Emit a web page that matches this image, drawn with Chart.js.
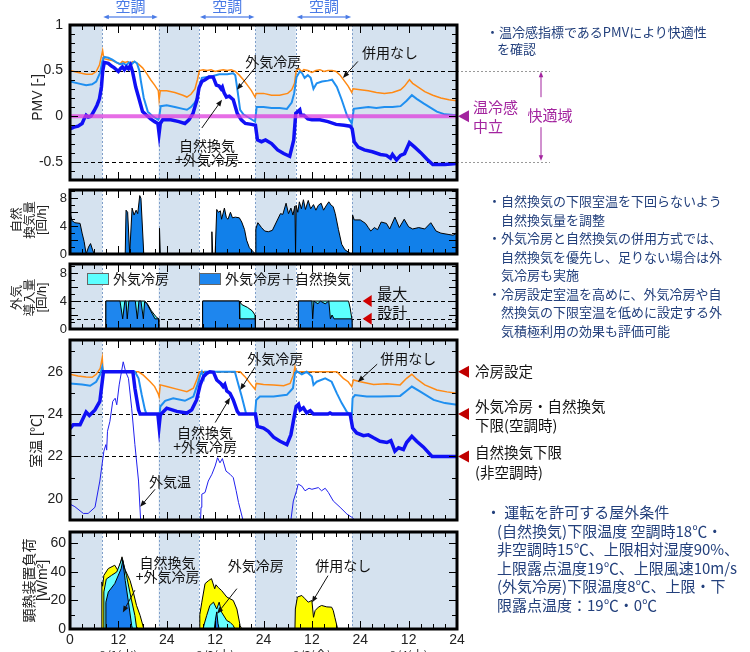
<!DOCTYPE html>
<html lang="ja">
<head>
<meta charset="utf-8">
<title>PMV・換気量・室温・顕熱負荷</title>
<script src="https://cdn.jsdelivr.net/npm/chart.js@4.4.0/dist/chart.umd.min.js"></script>
<style>
    html, body { margin: 0; padding: 0; background: #fff; }
    body { position: relative; width: 750px; height: 652px; overflow: hidden; font-family: 'Noto Sans CJK JP', sans-serif; }
    canvas { position: absolute; left: 0; }
    .note { position: absolute; white-space: nowrap; color: #23407c; }
</style>
</head>
<body>
<canvas id="pmvChart" width="750" height="185" style="top:0"></canvas>
<canvas id="ventChart" width="750" height="75" style="top:185px"></canvas>
<canvas id="oaChart" width="750" height="75" style="top:260px"></canvas>
<canvas id="tempChart" width="750" height="190" style="top:335px"></canvas>
<canvas id="loadChart" width="750" height="127" style="top:525px"></canvas>

<div class="note" style="left:486px;top:23px;font-size:13px;line-height:17px">
    <div>・温冷感指標であるPMVにより快適性</div>
    <div style="padding-left:11px">を確認</div>
</div>
<div class="note" style="left:488px;top:192px;font-size:13px;line-height:18.5px">
    <div>・自然換気の下限室温を下回らないよう</div>
    <div style="padding-left:13px">自然換気量を調整</div>
    <div>・外気冷房と自然換気の併用方式では、</div>
    <div style="padding-left:13px">自然換気を優先し、足りない場合は外</div>
    <div style="padding-left:13px">気冷房も実施</div>
    <div>・冷房設定室温を高めに、外気冷房や自</div>
    <div style="padding-left:13px">然換気の下限室温を低めに設定する外</div>
    <div style="padding-left:13px">気積極利用の効果も評価可能</div>
</div>
<div class="note" style="left:486px;top:503px;font-size:15px;line-height:18.5px">
    <div>・ 運転を許可する屋外条件</div>
    <div style="padding-left:11px">(自然換気)下限温度 空調時18℃・</div>
    <div style="padding-left:11px">非空調時15℃、上限相対湿度90%、</div>
    <div style="padding-left:11px">上限露点温度19℃、上限風速10m/s</div>
    <div style="padding-left:11px">(外気冷房)下限温度8℃、上限・下</div>
    <div style="padding-left:11px">限露点温度：19℃・0℃</div>
</div>

<script>
// time axis: 4 days, hours 0..96
const hourMax = 96;
const acOn = [8, 32, 56];
const acOff = [22, 46, 70];
const hourTicks = [0, 12, 24, 36, 48, 60, 72, 84, 96];
const dayLabels = ['8/1(水)', '8/2(木)', '8/3(金)', '8/4(土)'];

const pmvTicks = [-0.5, 0, 0.5, 1];
const ventTicks = [0, 2, 4, 6, 8];
const tempTicks = [20, 22, 24, 26];
const loadTicks = [0, 20, 40, 60];

const pmvComfort = [0.5, -0.5];
const pmvNeutral = 0;
const oaLevels = [4, 1.45];
const tempLevels = [26, 24, 22];

// PMV [-]
const pmvNone = [[0,0.50],[2,0.48],[4,0.46],[5.5,0.46],[6.5,0.49],[7.3,0.56],[7.9,0.68],[8.1,0.72],[8.4,0.63],[9.5,0.62],[10.5,0.61],[11.5,0.59],[12.3,0.57],[13,0.60],[13.7,0.59],[14.3,0.60],[15,0.58],[15.6,0.60],[16.3,0.59],[17,0.57],[18,0.53],[19,0.47],[20,0.40],[21,0.34],[21.9,0.28],[22.1,0.18],[22.4,0.28],[24,0.28],[26,0.26],[28,0.23],[29,0.21],[30,0.24],[31,0.30],[31.6,0.40],[32.1,0.50],[33,0.51],[34,0.50],[35,0.51],[36,0.49],[37,0.50],[38,0.51],[39,0.50],[40,0.51],[41,0.49],[42,0.45],[43,0.40],[44,0.34],[45,0.28],[45.9,0.21],[46.2,0.25],[48,0.25],[50,0.23],[52,0.23],[54,0.25],[55,0.29],[55.7,0.36],[56.1,0.50],[56.8,0.52],[57.5,0.49],[58,0.51],[59,0.50],[60,0.48],[61,0.50],[62,0.51],[63,0.49],[64,0.50],[65,0.50],[66,0.49],[67,0.45],[68,0.39],[69,0.33],[69.9,0.26],[70.2,0.30],[72,0.29],[74,0.28],[76,0.26],[78,0.25],[80,0.26],[82,0.29],[83,0.33],[84.2,0.40],[85,0.36],[86,0.33],[88,0.27],[90,0.23],[92,0.20],[94,0.18],[96,0.17]];
const pmvCool = [[0,0.38],[2,0.36],[4,0.34],[5.5,0.35],[6.5,0.38],[7.5,0.48],[8,0.60],[8.5,0.65],[9.5,0.64],[10.5,0.62],[11.5,0.59],[12.5,0.57],[13.2,0.58],[14,0.56],[14.6,0.59],[15.3,0.57],[16,0.60],[16.6,0.58],[17.2,0.50],[17.6,0.38],[18.3,0.20],[19.3,0.05],[20.5,0.00],[21.9,-0.04],[22.1,-0.02],[22.5,0.11],[24,0.12],[26,0.10],[28,0.08],[29,0.07],[30,0.10],[31,0.15],[31.5,0.20],[32.1,0.32],[32.7,0.42],[34,0.43],[35.5,0.44],[37,0.46],[39,0.46],[40.5,0.47],[41,0.45],[41.5,0.30],[42.2,0.07],[43,0.02],[44.5,-0.02],[45.9,-0.06],[46.3,0.10],[48,0.10],[50,0.09],[52,0.09],[53.8,0.08],[55,0.15],[55.6,0.25],[56.2,0.43],[57,0.49],[57.6,0.47],[58.2,0.42],[59,0.45],[59.7,0.42],[60.4,0.30],[61.2,0.36],[62.5,0.38],[64,0.39],[65,0.40],[66.2,0.32],[67.4,0.18],[68.7,0.01],[69.9,-0.08],[70.4,0.08],[72,0.09],[74,0.10],[76,0.09],[78,0.10],[80,0.10],[82,0.11],[83.5,0.17],[84.8,0.23],[86,0.19],[87.7,0.14],[89.5,0.09],[91,0.05],[93,0.02],[96,0.01]];
const pmvNatCool = [[0,-0.14],[1,-0.12],[2,-0.11],[3,-0.08],[3.5,-0.03],[4,0.01],[4.5,-0.01],[5.2,0.00],[6,0.06],[6.7,0.12],[7.3,0.19],[7.8,0.32],[8.1,0.49],[8.5,0.59],[9.5,0.58],[10.3,0.55],[11,0.53],[12,0.49],[12.5,0.52],[13,0.54],[13.5,0.51],[14,0.54],[14.5,0.52],[15,0.56],[15.5,0.49],[16.3,0.32],[17,0.21],[18,0.05],[19,0.01],[20,-0.03],[21,-0.06],[21.8,-0.08],[22.1,-0.19],[22.4,-0.08],[23,-0.04],[25,-0.04],[27,-0.06],[28.5,-0.08],[29.5,-0.04],[30.5,0.03],[31.5,0.18],[32,0.31],[32.7,0.38],[33.5,0.40],[34.5,0.43],[35.5,0.43],[36.3,0.34],[37,0.33],[37.5,0.30],[37.8,0.32],[38.2,0.26],[38.8,0.21],[39.5,0.22],[40.5,0.18],[41.5,0.03],[42.5,-0.04],[43.5,-0.08],[45,-0.09],[46,-0.10],[46.5,-0.26],[47.5,-0.28],[48.5,-0.26],[50,-0.30],[51.5,-0.37],[53,-0.41],[54.5,-0.44],[55.5,-0.26],[56,0.03],[56.5,0.05],[57,0.07],[57.3,0.01],[58,0.01],[59,-0.03],[60,-0.04],[62,-0.04],[64,-0.06],[66,-0.09],[68,-0.10],[69.5,-0.11],[70,-0.14],[70.5,-0.28],[71.5,-0.34],[73,-0.37],[75,-0.39],[77,-0.42],[78.5,-0.43],[79.5,-0.46],[80,-0.42],[81,-0.48],[82,-0.43],[83,-0.41],[84.2,-0.29],[85.5,-0.34],[87,-0.40],[88.5,-0.47],[90,-0.53],[93,-0.53],[96,-0.52]];

// 自然換気量 [回/h]
const ventNat = [[0,5.9],[0.5,4.8],[1.2,4.5],[2.5,4.4],[3,3.0],[3.5,1.8],[4,0],[4.6,1.0],[5.1,1.5],[5.6,0.6],[6,0],[13.7,0],[13.9,6.3],[14.3,6.0],[14.8,0],[15.4,6.6],[15.9,5.6],[16.4,6.3],[16.8,5.8],[17.3,8.4],[17.6,8.0],[18.3,0],[22.1,0],[22.2,3.7],[22.4,0],[35.0,0],[35.2,3.2],[35.4,0],[36.0,0],[36.4,6.4],[36.8,6.0],[37.3,6.2],[37.6,5.0],[38.3,6.6],[38.8,5.2],[39.2,5.0],[39.8,6.0],[40.3,5.2],[41,5.3],[42,5.2],[42.6,4.6],[43.3,3.5],[43.8,2.0],[44.5,0.9],[45.5,0.3],[46,0],[46.1,3.6],[46.6,4.5],[47.5,3.8],[48.3,3.3],[49.2,3.2],[50.2,3.4],[51.2,4.6],[52.2,5.8],[52.8,5.7],[53.6,7.3],[54.2,5.8],[54.8,6.6],[55.3,5.6],[55.8,6.9],[55.95,0],[56.1,7.0],[56.5,6.0],[56.9,7.5],[57.4,6.5],[57.9,7.8],[58.4,6.4],[59.1,7.7],[59.7,6.5],[60.4,7.1],[61,6.3],[61.6,7.0],[62.3,7.3],[62.9,6.3],[63.5,6.9],[64.2,7.5],[64.8,7.0],[65.3,6.8],[65.8,5.8],[66.6,3.5],[67.4,1.4],[68.2,0.6],[69.0,0.3],[69.8,0],[70.0,0],[70.1,5.6],[70.5,4.9],[72,4.9],[73.3,4.4],[74,3.8],[74.6,3.3],[75.5,3.8],[76.3,3.5],[77.2,4.6],[78.5,4.4],[79.3,3.6],[80.6,5.3],[81.7,3.8],[82.9,5.0],[84,3.9],[85,3.6],[86.5,3.8],[88,3.6],[89.5,4.5],[90.8,3.3],[92,3.0],[94,2.8],[95,2.7],[96,3.0]];

// 外気導入量 [回/h]
const oaBoth = [[0,0],[8.85,0],[8.9,4],[12.4,4],[13.07,1.45],[13.6,4],[13.9,4],[14.2,1.45],[14.6,4],[16.2,4],[16.7,1.45],[17.1,4],[17.6,4],[18.2,1.45],[18.5,3.9],[19.0,3.7],[20.0,2.6],[21.1,1.45],[21.95,1.45],[22,0],[32.85,0],[32.9,4],[42.0,4],[42.1,1.45],[45.95,1.45],[46,0],[56.6,0],[56.65,4],[60.0,4],[60.2,1.45],[60.5,4],[61.5,3.6],[62.1,4],[63.3,3.6],[64.2,4],[64.6,1.45],[65.0,2.0],[65.5,1.45],[69.95,1.45],[70,0],[96,0]];
const oaCool = [[0,0],[8.85,0],[8.9,4],[18.6,4],[19.3,3.5],[20.2,2.6],[21.0,2.0],[21.6,1.6],[21.95,1.5],[22,0],[32.85,0],[32.9,4],[42.0,4],[42.6,3.5],[44.0,3.1],[45.2,2.6],[45.9,2.0],[46,0],[56.6,0],[56.65,4],[69.1,4],[69.5,3.0],[69.9,1.5],[70,0],[96,0]];

// 室温 [℃]
const tempNone = [[0,25.88],[2,25.8],[4,25.75],[5.5,25.74],[6.5,25.88],[7.5,26.16],[8,26.66],[8.2,26],[17,26],[18.2,25.84],[19.9,25.53],[21,25.3],[21.9,24.95],[22.1,24.83],[22.4,25.38],[24,25.3],[26.5,25.18],[29,25.06],[30.6,25.22],[31.6,25.69],[32.1,26],[42.2,26],[43.4,25.77],[45,25.38],[45.9,25.17],[46.2,25.45],[48,25.4],[50.5,25.37],[53,25.34],[54.6,25.45],[55.4,25.84],[55.8,26.22],[56,26],[66.2,26],[67.8,25.69],[69,25.53],[69.9,25.3],[70.3,25.61],[72,25.53],[75.3,25.4],[78.6,25.43],[81.9,25.38],[83.5,25.69],[84.8,25.88],[86,25.66],[88,25.38],[91,25.14],[93.5,25.05],[96,24.98]];
const tempCool = [[0,25.45],[3,25.4],[5,25.34],[6.5,25.53],[7.5,25.88],[8,26.23],[8.2,26],[16.1,26],[17,25.69],[17.8,24.9],[18.6,24.2],[19,24],[21.8,24],[22.1,23.63],[22.4,24.36],[23.6,24.63],[25.6,24.75],[28.5,24.63],[30.6,24.83],[31.6,25.38],[32.3,25.84],[32.7,26],[33.2,25.7],[33.5,26],[40.9,26],[41.8,25.38],[42.6,24.83],[43.7,24],[45.9,24],[46.2,24.67],[47.1,24.83],[50.5,24.83],[53.8,24.91],[55.3,25.22],[55.8,25.92],[56.2,26.03],[57.5,25.88],[58.7,26],[60,25.77],[60.4,25.38],[61.2,25.53],[63.3,25.69],[64.9,25.53],[66.2,24.98],[67.4,24.52],[68.7,24.1],[69.5,24],[69.9,23.97],[70.1,24.75],[70.7,24.9],[73.6,24.83],[76.9,24.83],[81.9,24.86],[83.5,25.1],[84.8,25.3],[86.9,25.06],[90.2,24.67],[93,24.52],[96,24.44]];
const tempNatCool = [[0,23.31],[0.8,23.5],[2.5,23.5],[4,24.1],[4.8,23.94],[6.2,24.2],[7.4,24.6],[8.3,26],[15.6,26],[16.1,25.22],[17,24.2],[17.4,24],[21.8,24],[22.1,23.42],[22.4,23.97],[24,24.28],[26.5,24.13],[29,24.05],[30.2,24.2],[31.4,24.67],[32.3,25.38],[33.1,25.77],[33.9,25.92],[34.7,26],[35.6,25.97],[36.4,25.61],[37.4,25.45],[38,25.3],[38.4,25.4],[38.9,25.09],[39.7,24.98],[40.5,24.67],[41.5,24.13],[42,24],[46,24],[46.5,23.42],[48,23.34],[49.2,23.19],[50.5,22.91],[52.1,22.72],[53.8,22.56],[54.8,23.03],[55.4,23.66],[56.1,24.36],[56.7,24.47],[57.1,24.2],[57.9,24.3],[58.7,24.06],[59.6,24.16],[60.4,24],[64,24],[64.5,24.05],[65,24],[69.5,24],[70.1,23.34],[71.1,23.11],[72.8,22.98],[74,23.02],[75.3,22.88],[76.9,22.72],[78.6,22.66],[79.6,22.75],[80.6,22.25],[81.5,22.41],[82.7,22.33],[83.5,22.66],[84.8,22.95],[86,22.72],[87.7,22.44],[89.8,22],[96,22]];
const tempOut = [[0,19.75],[1.2,19.63],[3.3,19.31],[4.5,19.31],[6.2,19.6],[7.4,20.84],[8.4,22.25],[8.9,22.56],[9.1,22.3],[9.3,23.19],[9.9,23.66],[10.6,24.6],[11.2,24.75],[11.6,24.44],[12.2,25.38],[13.2,26.47],[13.8,26.0],[14.5,25.69],[15.3,24.28],[16.1,22.56],[17.0,20.84],[17.5,19.05],[17.8,18.5],[18,null],[32.2,null],[32.3,18.5],[32.5,19.6],[32.7,20.22],[33.5,20.3],[34.3,20.84],[35.2,21.16],[36.0,21.55],[36.6,21.94],[37.2,21.7],[37.8,21.9],[38.7,21.31],[39.7,21.16],[40.5,21.0],[41.2,20.4],[41.8,19.83],[42.9,19.0],[43.2,18.5],[43.5,null],[54.5,null],[54.6,18.5],[54.8,19.0],[55.4,19.9],[56.2,20.38],[56.6,20.7],[57.5,20.6],[58.3,20.38],[59.3,20.5],[60.0,20.45],[61.6,20.53],[62.4,20.38],[63.3,20.5],[64.1,20.3],[65.3,19.9],[67.0,19.6],[68.7,19.28],[69.9,19.13],[70.6,19.0],[71.0,18.5]];

// 顕熱装置負荷 [W/m2]
const loadNone = [[0,0],[7.85,0],[7.9,33],[8.1,30],[8.4,37.6],[9.5,42.4],[11.1,44.7],[11.9,41],[12.2,43],[12.9,50.6],[13.6,42],[14.9,34],[15.7,25.9],[16.5,16.5],[17.4,9.4],[18.2,1.2],[18.4,0],[32.0,0],[32.2,10],[32.7,18.8],[33.5,31.8],[34.4,34],[35.1,35.3],[35.9,28.2],[36.2,31],[36.8,29],[37.6,27],[38.9,22.4],[40.5,20],[41.4,14],[42.2,2.4],[42.6,0],[55.8,0],[55.9,14],[56.4,22.4],[57.5,23.5],[58.3,21.2],[59.1,18.8],[60,20],[60.4,8.2],[60.8,12.9],[61.6,15.3],[62.4,16.5],[63.7,15.5],[64.9,15.3],[65.3,13],[65.7,8.2],[66.3,1.2],[66.5,0],[96,0]];
const loadCool = [[0,0],[8.3,0],[8.4,26],[9,35],[10.3,37.6],[11.6,40],[12.9,49.4],[14,37.6],[15.2,21],[16.1,9.4],[16.5,1.2],[16.6,0],[33.0,0],[33.3,3.5],[33.9,9.4],[34.7,16.5],[35.6,18.8],[36.4,14],[37,18.8],[37.6,11.8],[38.9,5.9],[39.7,4.7],[40.5,2.4],[40.9,0],[96,0]];
const loadNatCool = [[0,0],[8.8,0],[8.9,18.8],[9.5,25.9],[11.1,31.8],[12.7,42.4],[13.1,48],[13.7,34],[14.5,18.8],[15.3,2.4],[15.5,0],[35.8,0],[36.1,7],[36.4,12],[36.7,4],[37,0],[96,0]];

// callouts (data coordinates)
const pmvNotes = [
    { lines: ['外気冷房'], at: [50.4, 0.60], from: [45.9, 0.53], to: [41.4, 0.29] },
    { lines: ['併用なし'], at: [79.4, 0.70], from: [71.4, 0.60], to: [67.7, 0.42] },
    { lines: ['自然換気', '+外気冷房'], at: [34.0, -0.32], from: [32.7, -0.13], to: [37.7, 0.18] },
];
const tempNotes = [
    { lines: ['外気冷房'], at: [50.9, 26.63], from: [45.9, 26.22], to: [42.2, 25.14] },
    { lines: ['併用なし'], at: [83.9, 26.63], from: [76.2, 26.36], to: [71.4, 25.52] },
    { lines: ['自然換気', '+外気冷房'], at: [33.5, 23.11], from: [36.0, 23.6], to: [39.7, 24.77] },
    { lines: ['外気温'], at: [24.8, 20.83], from: [21.1, 20.45], to: [17.4, 19.62] },
];
const loadNotes = [
    { lines: ['自然換気', '+外気冷房'], at: [24.2, 46.7], from: [16.1, 27.2], to: [13.1, 11.6] },
    { lines: ['外気冷房'], at: [46.1, 44.4], from: [41.4, 28.3], to: [36.5, 10.7] },
    { lines: ['併用なし'], at: [67.8, 44.4], from: [64.0, 37.4], to: [60.0, 18.5] },
];

Chart.defaults.font.family = '"Liberation Sans", Arial, "Noto Sans CJK JP", sans-serif';
Chart.defaults.color = '#222';
const baseFont = Chart.defaults.font.family;
const jpFont = '"Noto Sans CJK JP", sans-serif';
const plotRight = 457;

const pts = (arr) => arr.map(([x, y]) => ({ x, y }));

const offIntervals = [];
let offStart = 0;
acOn.forEach((on, i) => {
    offIntervals.push([offStart, on]);
    offStart = acOff[i];
});
offIntervals.push([offStart, hourMax]);

function hline(ctx, x1, x2, y) {
    ctx.beginPath();
    ctx.moveTo(x1, y);
    ctx.lineTo(x2, y);
    ctx.stroke();
}

function vline(ctx, x, y1, y2) {
    ctx.beginPath();
    ctx.moveTo(x, y1);
    ctx.lineTo(x, y2);
    ctx.stroke();
}

function arrow(ctx, x1, y1, x2, y2, head) {
    const ang = Math.atan2(y2 - y1, x2 - x1);
    ctx.beginPath();
    ctx.moveTo(x1, y1);
    ctx.lineTo(x2 - Math.cos(ang) * head * 0.7, y2 - Math.sin(ang) * head * 0.7);
    ctx.stroke();
    ctx.beginPath();
    ctx.moveTo(x2, y2);
    ctx.lineTo(x2 - head * Math.cos(ang - 0.38), y2 - head * Math.sin(ang - 0.38));
    ctx.lineTo(x2 - head * Math.cos(ang + 0.38), y2 - head * Math.sin(ang + 0.38));
    ctx.closePath();
    ctx.fill();
}

function leftTriangle(ctx, tipX, cy, w, hh, color) {
    ctx.fillStyle = color;
    ctx.beginPath();
    ctx.moveTo(tipX, cy);
    ctx.lineTo(tipX + w, cy - hh);
    ctx.lineTo(tipX + w, cy + hh);
    ctx.closePath();
    ctx.fill();
}

function drawNotes(ctx, x, y, notes) {
    ctx.font = `14px ${jpFont}`;
    ctx.fillStyle = '#111';
    ctx.strokeStyle = '#111';
    ctx.lineWidth = 1;
    ctx.setLineDash([]);
    ctx.textAlign = 'center';
    ctx.textBaseline = 'middle';
    notes.forEach((n) => {
        const cx = x.getPixelForValue(n.at[0]);
        const cy = y.getPixelForValue(n.at[1]);
        n.lines.forEach((t, i) => ctx.fillText(t, cx, cy + i * 14));
        arrow(ctx, x.getPixelForValue(n.from[0]), y.getPixelForValue(n.from[1]),
            x.getPixelForValue(n.to[0]), y.getPixelForValue(n.to[1]), 7);
    });
}

// rotated axis title, one column per line
function drawYTitle(ctx, a, t) {
    const cy = (a.top + a.bottom) / 2 + (t.shift || 0);
    ctx.fillStyle = '#222';
    ctx.font = `${t.size}px ${baseFont}`;
    ctx.textAlign = 'center';
    ctx.textBaseline = 'middle';
    t.lines.forEach((line, i) => {
        ctx.save();
        ctx.translate(t.xs[i], cy);
        ctx.rotate(-Math.PI / 2);
        ctx.fillText(line, 0, 0);
        ctx.restore();
    });
}

const panelDecor = (p) => ({
    id: 'panelDecor',
    beforeDatasetsDraw(chart) {
        const { ctx, chartArea: a, scales: { x, y } } = chart;
        ctx.save();
        ctx.fillStyle = '#d5e2ef';
        offIntervals.forEach(([s, e]) => {
            const x1 = x.getPixelForValue(s);
            ctx.fillRect(x1, a.top, x.getPixelForValue(e) - x1, a.bottom - a.top);
        });
        ctx.strokeStyle = '#7f9fca';
        ctx.lineWidth = 1;
        ctx.setLineDash([2, 2]);
        acOn.concat(acOff).forEach((h) => vline(ctx, Math.round(x.getPixelForValue(h)) + 0.5, a.top, a.bottom));
        ctx.strokeStyle = '#000';
        ctx.setLineDash([4, 3]);
        (p.levels || []).forEach((v) => hline(ctx, a.left, a.right, Math.round(y.getPixelForValue(v)) + 0.5));
        ctx.restore();
    },
    afterDatasetsDraw(chart) {
        const { ctx, chartArea: a, scales: { x, y } } = chart;
        ctx.save();
        if (p.extra) {
            p.extra(ctx, x, y, a);
        }
        if (p.notes) {
            drawNotes(ctx, x, y, p.notes);
        }
        drawYTitle(ctx, a, p.yTitle);
        ctx.setLineDash([]);
        ctx.strokeStyle = '#000';
        ctx.lineWidth = 1;
        for (let h = 0; h <= hourMax; h += 3) {
            const len = h % 12 === 0 ? 8 : 5;
            const px = Math.round(x.getPixelForValue(h)) + 0.5;
            vline(ctx, px, a.top, a.top + len);
            vline(ctx, px, a.bottom, a.bottom - len);
        }
        for (let k = Math.ceil(y.min / p.yStep - 1e-9); k * p.yStep <= y.max + 1e-9; k++) {
            const v = k * p.yStep;
            const major = Math.abs(v / p.yMajor - Math.round(v / p.yMajor)) < 1e-6;
            const len = major ? 8 : 5;
            const py = Math.round(y.getPixelForValue(v)) + 0.5;
            hline(ctx, a.left, a.left + len, py);
            hline(ctx, a.right, a.right - len, py);
        }
        ctx.lineWidth = 3;
        ctx.strokeRect(a.left, a.top, a.right - a.left, a.bottom - a.top);
        ctx.restore();
    },
});

function panelOptions(p) {
    return {
        responsive: false,
        animation: false,
        events: [],
        layout: { padding: { left: 0, right: 750 - plotRight, top: p.padTop, bottom: p.padBottom } },
        plugins: { legend: { display: false }, tooltip: { enabled: false } },
        scales: {
            x: {
                type: 'linear',
                min: 0,
                max: hourMax,
                display: !!p.showX,
                grid: { display: false, drawTicks: false },
                border: { display: false },
                afterFit: (s) => {
                    s.height = p.xHeight || 0;
                    s.paddingLeft = 0;
                    s.paddingRight = 0;
                },
                afterBuildTicks: (s) => { s.ticks = hourTicks.map((v) => ({ value: v })); },
                ticks: {
                    font: { size: 14 },
                    color: '#222',
                    padding: 3,
                    maxRotation: 0,
                    autoSkip: false,
                    callback: (v) => (v === 0 ? '0' : String(v % 24 === 0 ? 24 : v % 24)),
                },
            },
            y: {
                min: p.min,
                max: p.max,
                grid: { display: false, drawTicks: false },
                border: { display: false },
                afterFit: (s) => {
                    s.width = 70;
                    s.paddingTop = 0;
                    s.paddingBottom = 0;
                },
                afterBuildTicks: (s) => { s.ticks = p.ticks.map((v) => ({ value: v })); },
                ticks: { font: { size: p.tickSize }, color: '#222', padding: p.tickPad, callback: (v) => String(v) },
            },
        },
    };
}

const lineSet = (data, color, width, order) => ({
    data: pts(data), borderColor: color, borderWidth: width, pointRadius: 0, fill: false, tension: 0, order,
});
const areaSet = (data, color, order) => ({
    data: pts(data), borderColor: '#000', borderWidth: 1, backgroundColor: color, pointRadius: 0, fill: 'origin', tension: 0, order,
});

// PMV
new Chart(document.getElementById('pmvChart'), {
    type: 'line',
    data: {
        datasets: [
            lineSet(pmvNatCool, '#1010f5', 3.5, 1),
            lineSet(pmvCool, '#1f8ff0', 2, 2),
            lineSet(pmvNone, '#ff8a14', 1.5, 3),
        ],
    },
    options: panelOptions({ min: -0.7, max: 1, ticks: pmvTicks, tickSize: 14, tickPad: 7, padTop: 25, padBottom: 5 }),
    plugins: [panelDecor({
        levels: pmvComfort,
        yStep: 0.1,
        yMajor: 0.5,
        notes: pmvNotes,
        yTitle: { lines: ['PMV [-]'], xs: [38], size: 14, shift: -5 },
        extra: (ctx, x, y, a) => {
            const y0 = y.getPixelForValue(pmvNeutral);
            ctx.strokeStyle = 'rgba(222, 60, 222, 0.75)';
            ctx.lineWidth = 4;
            hline(ctx, a.left, a.right, y0);
            ctx.strokeStyle = '#999';
            ctx.lineWidth = 1;
            ctx.setLineDash([2, 2]);
            pmvComfort.forEach((v) => hline(ctx, a.right, 550, Math.round(y.getPixelForValue(v)) + 0.5));
            ctx.setLineDash([]);
            const mag = '#a3249f';
            leftTriangle(ctx, a.right + 1, y0, 11, 6, mag);
            ctx.font = `15px ${jpFont}`;
            ctx.textBaseline = 'middle';
            ctx.textAlign = 'left';
            ctx.fillText('温冷感', 473, y0 - 9);
            ctx.fillText('中立', 473, y0 + 10);
            ctx.textAlign = 'center';
            ctx.fillText('快適域', 550, y0 - 1);
            ctx.strokeStyle = mag;
            arrow(ctx, 541, y0 - 19, 541, y.getPixelForValue(pmvComfort[0]) + 1, 6);
            arrow(ctx, 541, y0 + 11, 541, y.getPixelForValue(pmvComfort[1]) - 1, 6);
            // 空調 periods
            const blue = '#4a7be6';
            ctx.fillStyle = blue;
            ctx.strokeStyle = blue;
            ctx.lineWidth = 1.2;
            ctx.font = `15px ${jpFont}`;
            acOn.forEach((on, i) => {
                const xa = x.getPixelForValue(on) + 1;
                const xb = x.getPixelForValue(acOff[i]) - 1;
                const xm = (xa + xb) / 2;
                arrow(ctx, xm, 17, xa, 17, 6);
                arrow(ctx, xm, 17, xb, 17, 6);
                ctx.fillText('空調', xm, 6);
            });
        },
    })],
});

// 自然換気量
new Chart(document.getElementById('ventChart'), {
    type: 'line',
    data: { datasets: [areaSet(ventNat, '#1180ea', 1)] },
    options: panelOptions({ min: 0, max: 9.2, ticks: ventTicks, tickSize: 13, tickPad: 3, padTop: 5, padBottom: 6 }),
    plugins: [panelDecor({
        yStep: 1,
        yMajor: 2,
        yTitle: { lines: ['自然', '換気量', '[回/h]'], xs: [18, 31, 43], size: 12.5, shift: -2 },
    })],
});

// 外気導入量
new Chart(document.getElementById('oaChart'), {
    type: 'line',
    data: {
        datasets: [
            areaSet(oaBoth, '#1e86ee', 1),
            areaSet(oaCool, '#5cffff', 2),
        ],
    },
    options: panelOptions({ min: 0, max: 9.3, ticks: ventTicks, tickSize: 13, tickPad: 3, padTop: 4, padBottom: 6 }),
    plugins: [panelDecor({
        levels: oaLevels,
        yStep: 1,
        yMajor: 2,
        yTitle: { lines: ['外気', '導入量', '[回/h]'], xs: [18, 31, 43], size: 12.5, shift: 1 },
        extra: (ctx, x, y, a) => {
            ctx.lineWidth = 1;
            ctx.strokeStyle = '#666';
            ctx.font = `14px ${jpFont}`;
            ctx.textAlign = 'left';
            ctx.textBaseline = 'middle';
            [['#5cffff', '外気冷房', 17], ['#1e86ee', '外気冷房＋自然換気', 129]].forEach(([c, t, dx]) => {
                ctx.fillStyle = c;
                ctx.fillRect(a.left + dx, a.top + 9, 21, 11);
                ctx.strokeRect(a.left + dx + 0.5, a.top + 9.5, 21, 11);
                ctx.fillStyle = '#111';
                ctx.fillText(t, a.left + dx + 26, a.top + 15);
            });
            oaLevels.forEach((v) => leftTriangle(ctx, x.getPixelForValue(72.6), y.getPixelForValue(v), 9, 6, '#d00000'));
            ctx.fillStyle = '#111';
            ctx.font = `15px ${jpFont}`;
            ctx.fillText('最大', x.getPixelForValue(76.2), y.getPixelForValue(5.1));
            ctx.fillText('設計', x.getPixelForValue(76.2), y.getPixelForValue(2.4));
        },
    })],
});

// 室温
new Chart(document.getElementById('tempChart'), {
    type: 'line',
    data: {
        datasets: [
            lineSet(tempNatCool, '#1010f5', 3.5, 1),
            lineSet(tempCool, '#1f8ff0', 2, 2),
            lineSet(tempNone, '#ff8a14', 1.5, 3),
            lineSet(tempOut, '#2020ee', 1, 4),
        ],
    },
    options: panelOptions({ min: 19, max: 27.5, ticks: tempTicks, tickSize: 14, tickPad: 7, padTop: 5, padBottom: 5 }),
    plugins: [panelDecor({
        levels: tempLevels,
        yStep: 1,
        yMajor: 2,
        notes: tempNotes,
        yTitle: { lines: ['室温 [℃]'], xs: [37], size: 14, shift: 11 },
        extra: (ctx, x, y, a) => {
            tempLevels.forEach((v) => leftTriangle(ctx, a.right + 1, y.getPixelForValue(v), 11, 6, '#c00000'));
            ctx.fillStyle = '#111';
            ctx.font = `14.5px ${jpFont}`;
            ctx.textAlign = 'left';
            ctx.textBaseline = 'middle';
            const y26 = y.getPixelForValue(tempLevels[0]);
            const y24 = y.getPixelForValue(tempLevels[1]);
            const y22 = y.getPixelForValue(tempLevels[2]);
            ctx.fillText('冷房設定', 475, y26);
            ctx.fillText('外気冷房・自然換気', 475, y24 - 8);
            ctx.fillText('下限(空調時)', 475, y24 + 11);
            ctx.fillText('自然換気下限', 475, y22 - 4);
            ctx.fillText('(非空調時)', 475, y22 + 16);
        },
    })],
});

// 顕熱装置負荷
new Chart(document.getElementById('loadChart'), {
    type: 'line',
    data: {
        datasets: [
            areaSet(loadNatCool, '#1a7ff0', 1),
            areaSet(loadCool, '#66ffff', 2),
            areaSet(loadNone, '#ffff00', 3),
        ],
    },
    options: panelOptions({
        min: 0, max: 68, ticks: loadTicks, tickSize: 14, tickPad: 4,
        padTop: 7, padBottom: 0, showX: true, xHeight: 23,
    }),
    plugins: [panelDecor({
        yStep: 10,
        yMajor: 20,
        notes: loadNotes,
        yTitle: { lines: ['顕熱装置負荷', '[W/m²]'], xs: [30, 43], size: 14, shift: 0 },
        extra: (ctx, x, y, a) => {
            ctx.fillStyle = '#222';
            ctx.font = `12px ${jpFont}`;
            ctx.textAlign = 'center';
            ctx.textBaseline = 'top';
            dayLabels.forEach((d, i) => ctx.fillText(d, x.getPixelForValue(i * 24 + 12), a.bottom + 20));
        },
    })],
});
</script>
</body>
</html>
